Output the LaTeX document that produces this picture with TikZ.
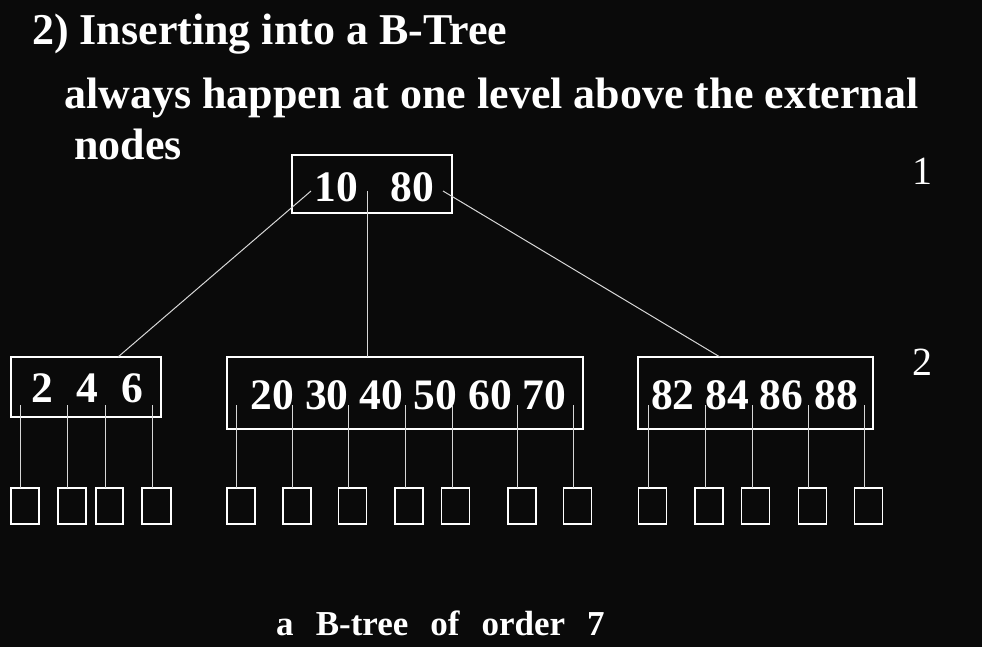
\documentclass[tikz,border=0pt]{standalone}
\usepackage{fontspec}
\setmainfont{Liberation Serif}
\definecolor{bgblack}{RGB}{10,10,10}
\definecolor{ptrgray}{RGB}{215,215,215}
\begin{document}
\begin{tikzpicture}[x=1pt, y=-1pt,
  keybox/.style={draw=white, line width=1.6pt, inner sep=0pt, outer sep=0pt},
  extbox/.style={draw=white, line width=1.6pt, inner sep=0pt, outer sep=0pt, minimum width=28, minimum height=36},
  keytxt/.style={text=white, anchor=base, inner sep=0pt, font=\fontsize{43.5}{50}\selectfont\bfseries},
  headtxt/.style={text=white, anchor=base west, inner sep=0pt, font=\fontsize{44}{50}\selectfont\bfseries},
  ptr/.style={draw=ptrgray, line width=1pt}]
\fill[bgblack] (0,0) rectangle (982,647);
\useasboundingbox (0,0) rectangle (982,647);
% heading
\node[headtxt] (title) at (32,45){2) Inserting into a B-Tree};
\node[headtxt] (line1) at (64,109){always happen at one level above the external};
\node[headtxt] (line2) at (74,160){nodes};
% level numbers
\node[text=white, anchor=base, inner sep=0pt, font=\fontsize{40}{46}\selectfont] (lev1) at (922,185){1};
\node[text=white, anchor=base, inner sep=0pt, font=\fontsize{40}{46}\selectfont] (lev2) at (922,375){2};
% index nodes
\node[keybox, minimum width=160, minimum height=58] (root) at (372,184){};
\node[keybox, minimum width=150, minimum height=60] (lft) at (86,387){};
\node[keybox, minimum width=356, minimum height=72] (mid) at (405,393){};
\node[keybox, minimum width=235, minimum height=72] (rgt) at (755.5,393){};
\node[keytxt] (key0) at (374.5,201){10\hskip0.74em 80};
\node[keytxt] (key1) at (87.5,402){2\hskip0.53em 4\hskip0.53em 6};
\node[keytxt] (key2) at (408.5,409){20 30 40 50 60 70};
\node[keytxt] (key3) at (754.5,409){82 84 86 88};
% root pointers
\coordinate (r0) at (311,191);
\coordinate (r1) at (367,191);
\coordinate (r2) at (443,191);
\draw[ptr](r0) -- ([xshift=32pt]lft.north);
\draw[ptr](r1) -- (r1 |- mid.north);
\draw[ptr](r2) -- ([xshift=-35.5pt]rgt.north);
% external nodes
\node[extbox] (ext0) at (25,506){};
\node[extbox] (ext1) at (72,506){};
\node[extbox, minimum width=27] (ext2) at (109.5,506){};
\node[extbox, minimum width=29] (ext3) at (156.5,506){};
\node[extbox] (ext4) at (241,506){};
\node[extbox] (ext5) at (297,506){};
\node[extbox] (ext6) at (352.5,506){};
\node[extbox] (ext7) at (409,506){};
\node[extbox] (ext8) at (455.5,506){};
\node[extbox] (ext9) at (522,506){};
\node[extbox] (ext10) at (577.5,506){};
\node[extbox] (ext11) at (652.5,506){};
\node[extbox] (ext12) at (709,506){};
\node[extbox] (ext13) at (755.5,506){};
\node[extbox] (ext14) at (812.5,506){};
\node[extbox] (ext15) at (868.5,506){};
% pointers to external nodes
\coordinate (p0) at (20,405);
\coordinate (p1) at (67,405);
\coordinate (p2) at (105,405);
\coordinate (p3) at (152,405);
\coordinate (p4) at (236,405);
\coordinate (p5) at (292,405);
\coordinate (p6) at (348,405);
\coordinate (p7) at (405,405);
\coordinate (p8) at (452,405);
\coordinate (p9) at (517,405);
\coordinate (p10) at (573,405);
\coordinate (p11) at (648,405);
\coordinate (p12) at (705,405);
\coordinate (p13) at (752,405);
\coordinate (p14) at (808,405);
\coordinate (p15) at (864,405);
\draw[ptr](p0) -- (p0 |- ext0.north);
\draw[ptr](p1) -- (p1 |- ext1.north);
\draw[ptr](p2) -- (p2 |- ext2.north);
\draw[ptr](p3) -- (p3 |- ext3.north);
\draw[ptr](p4) -- (p4 |- ext4.north);
\draw[ptr](p5) -- (p5 |- ext5.north);
\draw[ptr](p6) -- (p6 |- ext6.north);
\draw[ptr](p7) -- (p7 |- ext7.north);
\draw[ptr](p8) -- (p8 |- ext8.north);
\draw[ptr](p9) -- (p9 |- ext9.north);
\draw[ptr](p10) -- (p10 |- ext10.north);
\draw[ptr](p11) -- (p11 |- ext11.north);
\draw[ptr](p12) -- (p12 |- ext12.north);
\draw[ptr](p13) -- (p13 |- ext13.north);
\draw[ptr](p14) -- (p14 |- ext14.north);
\draw[ptr](p15) -- (p15 |- ext15.north);
% caption
\node[text=white, anchor=base west, inner sep=0pt, font=\fontsize{35}{40}\selectfont\bfseries] (cap) at (276,635){a\hskip0.63em B-tree\hskip0.63em of\hskip0.63em order\hskip0.63em 7};
\end{tikzpicture}
\end{document}
